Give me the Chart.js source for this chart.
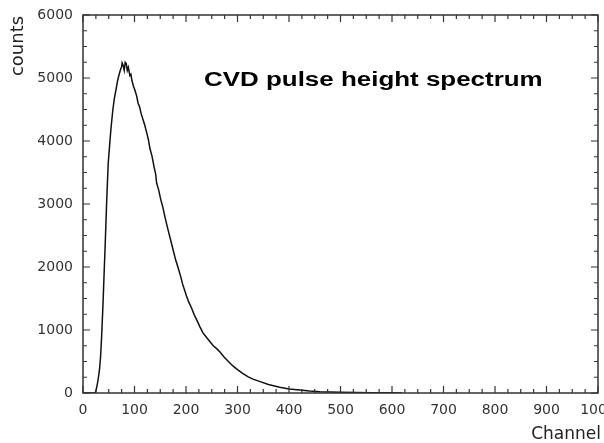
<!DOCTYPE html>
<html>
<head>
<meta charset="utf-8">
<script src="https://cdn.jsdelivr.net/npm/chart.js@4"></script>
<style>
    body { margin: 0; background: #fff; }
    #wrap { width: 604px; height: 443px; }
</style>
</head>
<body>
<div id="wrap"><canvas id="spectrumChart" width="604" height="443"></canvas></div>
<script>
"use strict";

const channels = [0, 10, 20, 23, 25, 28, 30, 32, 34, 36, 38, 39, 41, 43, 46, 49, 51, 54, 58, 61,
    64, 67, 69, 72, 75, 76, 78, 80, 82, 84, 86, 88, 91, 93, 95, 98, 101, 104, 107, 110,
    113, 117, 120, 124, 127, 130, 134, 138, 141, 143, 147, 151, 155, 159, 163, 167, 171, 175, 180, 185,
    190, 193, 197, 201, 205, 211, 216, 222, 227, 233, 240, 247, 253, 260, 266, 273, 280, 287, 294, 300,
    310, 320, 330, 344, 360, 382, 400, 421, 440, 460, 480, 500, 530, 560, 600, 620];
const counts = [0, 0, 0, 5, 25, 150, 250, 370, 560, 870, 1250, 1450, 1900, 2330, 3050, 3650, 3860, 4170, 4500, 4680,
    4810, 4950, 5020, 5110, 5180, 5240, 5200, 5120, 5250, 5230, 5120, 5170, 5040, 5060, 4960, 4870, 4800, 4720, 4600, 4540,
    4430, 4330, 4250, 4120, 4020, 3880, 3760, 3590, 3480, 3330, 3220, 3070, 2950, 2800, 2660, 2530, 2400, 2270, 2110, 1980,
    1840, 1740, 1640, 1540, 1450, 1345, 1240, 1140, 1050, 955, 880, 810, 750, 700, 650, 580, 520, 460, 410, 370,
    310, 260, 220, 180, 135, 90, 65, 48, 33, 21, 15, 10, 7, 4, 2, 1];

const xTicks = [0, 100, 200, 300, 400, 500, 600, 700, 800, 900, 1000];
const yTicks = [0, 1000, 2000, 3000, 4000, 5000, 6000];

const titleText = "CVD pulse height spectrum";
const xLabel = "Channel";
const yLabel = "counts";

// box with inward ticks on all four sides, plus the free-floating texts
const frameAndLabels = {
    id: "frameAndLabels",
    afterDraw(chart) {
        const { ctx, chartArea: a, scales } = chart;
        const xs = scales.x;
        const ys = scales.y;

        ctx.save();
        ctx.strokeStyle = "#333";
        ctx.lineWidth = 1.5;
        ctx.strokeRect(a.left, a.top, a.right - a.left, a.bottom - a.top);

        ctx.lineWidth = 1.2;
        ctx.beginPath();
        for (let v = 0; v <= 1000; v += 25) {
            const px = xs.getPixelForValue(v);
            const len = v % 100 === 0 ? 7 : 4;
            ctx.moveTo(px, a.bottom);
            ctx.lineTo(px, a.bottom - len);
            ctx.moveTo(px, a.top);
            ctx.lineTo(px, a.top + len);
        }
        for (let v = 0; v <= 6000; v += 250) {
            const py = ys.getPixelForValue(v);
            const len = v % 1000 === 0 ? 7 : 4;
            ctx.moveTo(a.left, py);
            ctx.lineTo(a.left + len, py);
            ctx.moveTo(a.right, py);
            ctx.lineTo(a.right - len, py);
        }
        ctx.stroke();

        // title inside the plot, stretched like the reference
        ctx.fillStyle = "#000";
        ctx.textBaseline = "alphabetic";
        ctx.textAlign = "left";
        ctx.save();
        ctx.translate(204, 86);
        ctx.scale(1.33, 1);
        ctx.font = "bold 19.5px 'Liberation Sans', Arial, sans-serif";
        ctx.fillText(titleText, 0, 0);
        ctx.restore();

        ctx.fillStyle = "#222";
        ctx.font = "17px 'DejaVu Sans', sans-serif";
        ctx.textAlign = "right";
        ctx.fillText(xLabel, 601, 439);

        ctx.save();
        ctx.translate(23, 46);
        ctx.rotate(-Math.PI / 2);
        ctx.textAlign = "center";
        ctx.font = "18px 'DejaVu Sans', sans-serif";
        ctx.fillText(yLabel, 0, 0);
        ctx.restore();

        ctx.restore();
    }
};

const ctx = document.getElementById("spectrumChart");

new Chart(ctx, {
    type: "scatter",
    data: {
        datasets: [{
            label: "counts",
            data: channels.map((c, i) => ({ x: c, y: counts[i] })),
            showLine: true,
            borderColor: "#111",
            borderWidth: 1.5,
            pointRadius: 0,
            tension: 0
        }]
    },
    options: {
        responsive: false,
        animation: false,
        layout: { padding: { left: 0, right: 6, top: 15, bottom: 0 } },
        plugins: {
            legend: { display: false },
            tooltip: { enabled: false }
        },
        scales: {
            x: {
                type: "linear",
                min: 0,
                max: 1000,
                grid: { display: false, drawTicks: false },
                border: { display: false },
                afterBuildTicks: scale => {
                    scale.ticks = xTicks.map(v => ({ value: v }));
                },
                ticks: {
                    autoSkip: false,
                    maxRotation: 0,
                    padding: 9,
                    color: "#333",
                    font: { family: "'DejaVu Sans', sans-serif", size: 14 },
                    callback: value => String(value)
                },
                afterFit: scale => {
                    scale.height = 50;
                    scale.paddingLeft = 0;
                    scale.paddingRight = 0;
                }
            },
            y: {
                min: 0,
                max: 6000,
                grid: { display: false, drawTicks: false },
                border: { display: false },
                afterBuildTicks: scale => {
                    scale.ticks = yTicks.map(v => ({ value: v }));
                },
                ticks: {
                    padding: 10,
                    color: "#333",
                    font: { family: "'DejaVu Sans', sans-serif", size: 14 },
                    callback: value => String(value)
                },
                afterFit: scale => {
                    scale.width = 83;
                    scale.paddingTop = 0;
                    scale.paddingBottom = 0;
                }
            }
        }
    },
    plugins: [frameAndLabels]
});
</script>
</body>
</html>
